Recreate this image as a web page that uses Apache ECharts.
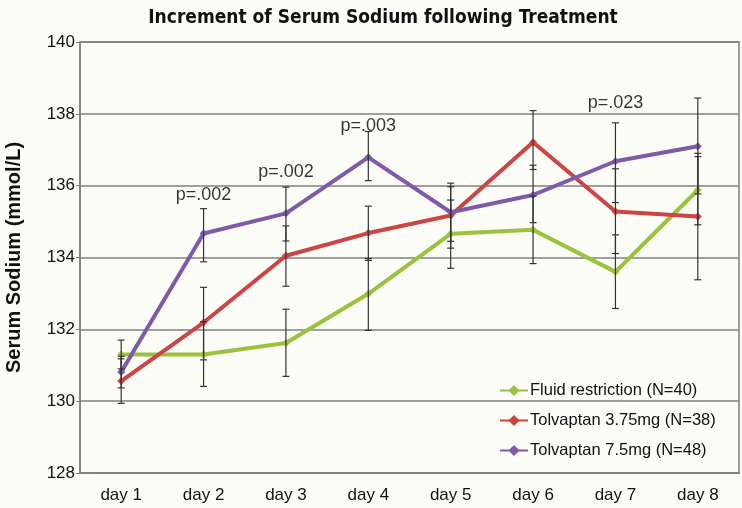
<!DOCTYPE html>
<html><head><meta charset="utf-8">
<script src="https://cdn.jsdelivr.net/npm/echarts@6/dist/echarts.min.js"></script>
<style>html,body{margin:0;padding:0;background:#fdfdf8;}#c{width:742px;height:508px;}</style>
</head><body><div id="c"></div>
<script>
const categories = ['day 1','day 2','day 3','day 4','day 5','day 6','day 7','day 8'];
const seriesNames = ['Fluid restriction (N=40)','Tolvaptan 3.75mg (N=38)','Tolvaptan 7.5mg (N=48)'];
const fluid   = [131.30,131.30,131.62,132.99,134.66,134.77,133.60,135.88];
const tolv375 = [130.56,132.19,134.05,134.68,135.17,137.21,135.28,135.14];
const tolv75  = [130.81,134.67,135.23,136.79,135.26,135.74,136.68,137.10];
const fluidLow  = [130.90,130.41,130.69,131.97,133.70,133.83,132.58,134.91];
const fluidHigh = [131.70,132.21,132.56,133.97,135.60,135.71,134.63,136.81];
const t375Low   = [129.94,131.15,133.20,133.92,134.26,136.45,134.11,133.38];
const t375High  = [131.18,133.17,134.88,135.43,135.97,138.09,136.47,136.90];
const t75Low    = [130.37,133.88,134.46,136.14,134.45,134.97,135.53,135.77];
const t75High   = [131.25,135.36,135.96,137.51,136.07,136.57,137.75,138.44];
const pTexts = ['p=.002','p=.002','p=.003','p=.023'];
const pDays  = ['day 2','day 3','day 4','day 7'];
const pValuesY = [135.73,136.38,137.66,138.30];
const yTicks = [128,130,132,134,136,138,140];

const colors = ['#9bc23c','#cc4444','#7e5aa8'];
const FONT = 'Liberation Sans, Arial, sans-serif';

function errSeries(low, high){
  return {
    type:'custom', z:5, silent:true,
    data: categories.map((c,i)=>[i, low[i], high[i]]),
    renderItem:function(params, api){
      const x = api.coord([api.value(0), api.value(1)])[0];
      const yl = api.coord([api.value(0), api.value(1)])[1];
      const yh = api.coord([api.value(0), api.value(2)])[1];
      const w = 3.5;
      const st = {stroke:'#333', lineWidth:1.2};
      return {type:'group', children:[
        {type:'line', shape:{x1:x,y1:yl,x2:x,y2:yh}, style:st},
        {type:'line', shape:{x1:x-w,y1:yl,x2:x+w,y2:yl}, style:st},
        {type:'line', shape:{x1:x-w,y1:yh,x2:x+w,y2:yh}, style:st}
      ]};
    }
  };
}
function lineSeries(name, data, color){
  return {name:name, type:'line', data:data, z:3,
    symbol:'diamond', symbolSize:8, showSymbol:true,
    itemStyle:{color:color}, lineStyle:{color:color, width:4}};
}

const chart = echarts.init(document.getElementById('c'), null, {renderer:'canvas'});
chart.setOption({
  backgroundColor:'#fdfdf8',
  animation:false,
  title:{text:'Increment of Serum Sodium following Treatment', left:378, textAlign:'center', top:4,
    textStyle:{fontFamily:'Liberation Sans Narrow, Arial Narrow, DejaVu Sans Condensed, sans-serif', fontWeight:'bold', fontSize:19, color:'#111'}},
  grid:{left:80, right:3, top:42, bottom:35, outerBoundsMode:'none', containLabel:false,
    show:true, borderColor:'#7f7f7f', borderWidth:1.5, backgroundColor:'transparent'},
  legend:{orient:'vertical', left:494, top:377, itemGap:13, itemWidth:28, itemHeight:14,
    data:seriesNames, textStyle:{fontFamily:FONT, fontSize:16.5, color:'#111', padding:[0,0,0,-3]}},
  xAxis:{type:'category', data:categories, boundaryGap:true,
    axisLine:{lineStyle:{color:'#7f7f7f', width:1.5}}, axisTick:{show:false},
    axisLabel:{fontFamily:FONT, fontSize:17, color:'#111', margin:14}},
  yAxis:{type:'value', min:128, max:140, interval:2,
    name:'Serum Sodium (mmol/L)', nameLocation:'middle', nameGap:56,
    nameTextStyle:{fontFamily:FONT, fontWeight:'bold', fontSize:20, color:'#111'},
    axisLine:{show:true, lineStyle:{color:'#7f7f7f', width:1.5}},
    axisTick:{show:true, length:4, lineStyle:{color:'#7f7f7f'}},
    axisLabel:{fontFamily:FONT, fontSize:17, color:'#111', margin:5,
      formatter:function(v){return yTicks.indexOf(v)>=0 ? String(v) : '';}},
    splitLine:{lineStyle:{color:'#7f7f7f', width:1.5}}},
  series:[
    lineSeries(seriesNames[0], fluid, colors[0]),
    lineSeries(seriesNames[1], tolv375, colors[1]),
    lineSeries(seriesNames[2], tolv75, colors[2]),
    errSeries(fluidLow, fluidHigh),
    errSeries(t375Low, t375High),
    errSeries(t75Low, t75High),
    {type:'scatter', symbolSize:0, silent:true, z:6,
      data: pDays.map((d,i)=>({value:[d, pValuesY[i]], name:pTexts[i]})),
      label:{show:true, position:[0,0], align:'center', verticalAlign:'middle',
        formatter:function(p){return p.name;},
        fontFamily:FONT, fontSize:18, color:'#000', textBorderWidth:0}}
  ]
});
</script></body></html>
